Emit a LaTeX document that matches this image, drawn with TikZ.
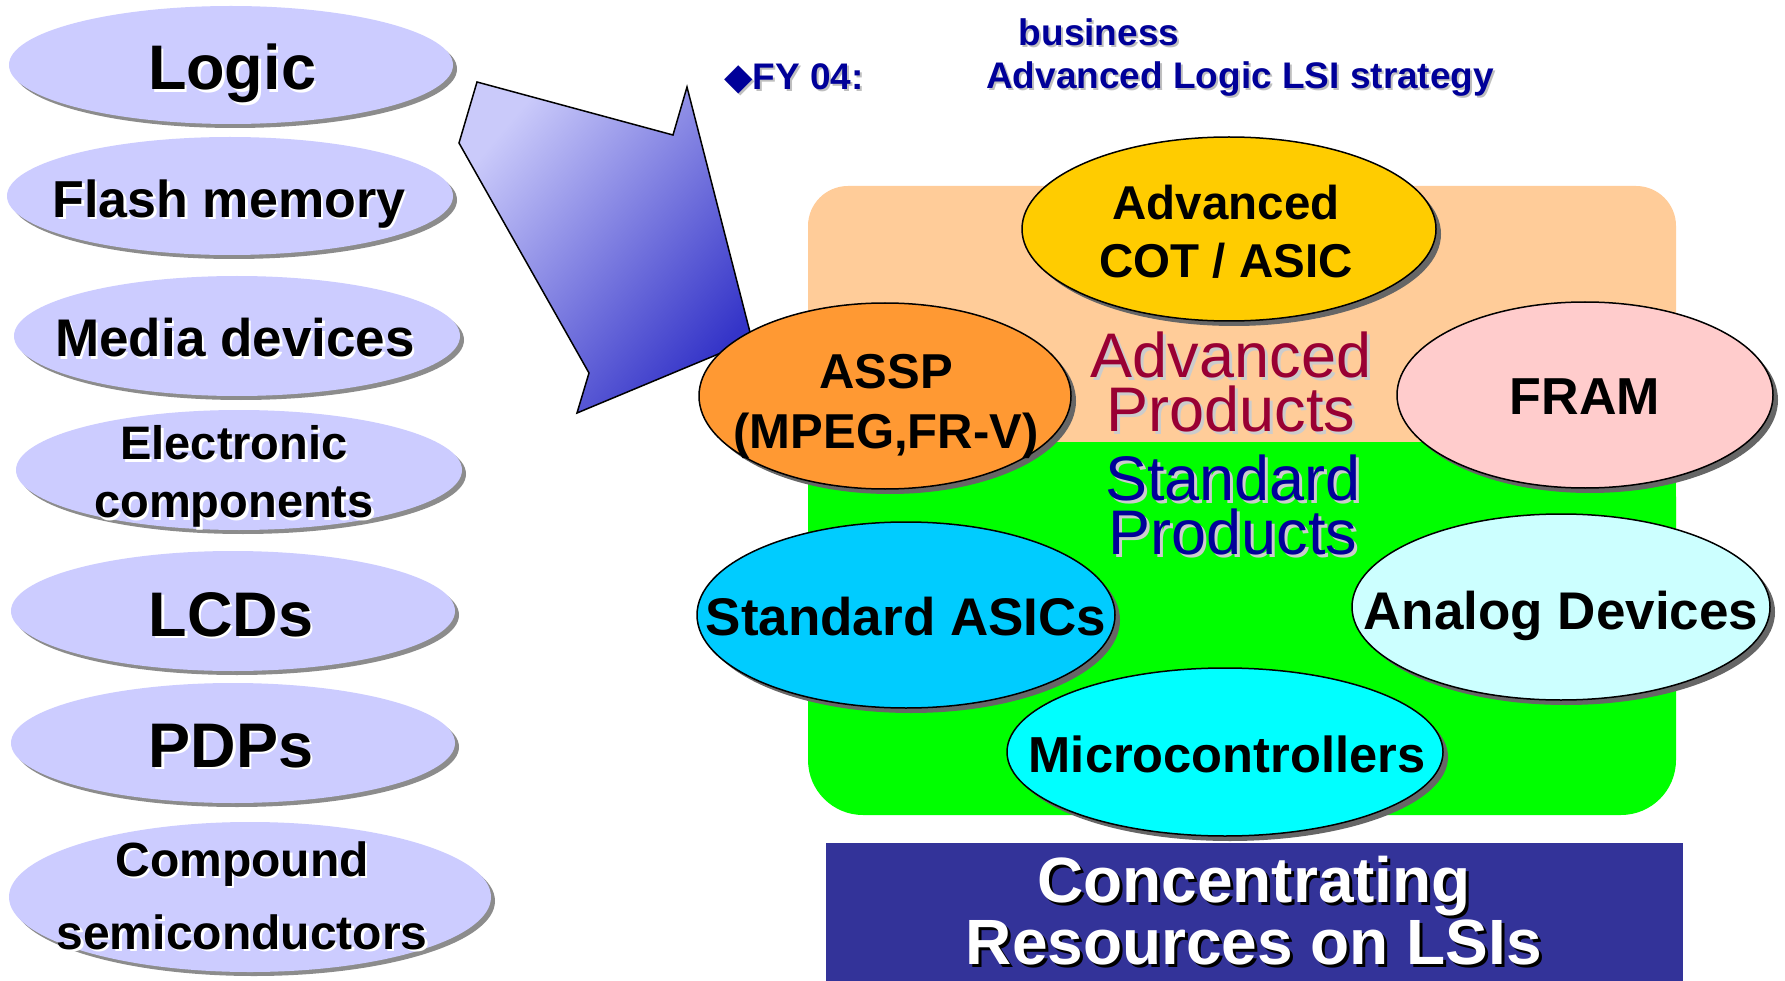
\documentclass[tikz,border=0pt]{standalone}
\usepackage{fontspec}
\setmainfont{Liberation Sans}
\newfontfamily\symfont{DejaVu Sans}
\usetikzlibrary{shapes.geometric,shadows}
\definecolor{lav}{HTML}{CCCCFF}
\definecolor{peach}{HTML}{FFCC99}
\definecolor{brightgreen}{HTML}{00FF00}
\definecolor{cotyellow}{HTML}{FFCC00}
\definecolor{asspor}{HTML}{FF9933}
\definecolor{frampink}{HTML}{FFCCCC}
\definecolor{stdblue}{HTML}{00CCFF}
\definecolor{analogcyan}{HTML}{CCFFFF}
\definecolor{microcyan}{HTML}{00FFFF}
\definecolor{navy}{HTML}{000099}
\definecolor{maroon}{HTML}{990033}
\definecolor{boxblue}{HTML}{333399}
\definecolor{arrlight}{HTML}{CACAFA}
\definecolor{arrdark}{HTML}{3434C8}
\newcommand{\shd}[3][3pt]{\leavevmode\rlap{\hspace{#1}\raisebox{-#1}{\textcolor{#2}{#3}}}#3}
\begin{document}
\begin{tikzpicture}[x=1pt,y=-1pt,
  leftell/.style={ellipse, fill=lav, draw=none, inner sep=0pt,
    drop shadow={shadow xshift=4pt, shadow yshift=-4pt, fill=black!45, opacity=1}},
  rightell/.style={ellipse, draw=black, line width=1.5pt, inner sep=0pt,
    drop shadow={shadow xshift=5pt, shadow yshift=-5pt, fill=black!60, opacity=1}},
  lbl/.style={align=center, inner sep=0pt, text=black},
]
\clip (0,0) rectangle (1785,981);
\fill[white] (0,0) rectangle (1785,981);

% ---- title lines
\node[anchor=center, inner sep=0pt, text=navy, font={\fontsize{37}{37}\selectfont\bfseries}] (business) at (1099,33) {\shd[2pt]{black!25}{business}};
\node[anchor=west, inner sep=0pt, text=navy, font={\fontsize{37}{37}\selectfont\bfseries}] (fy) at (724,80) {\shd[2pt]{black!25}{{\symfont ◆}FY 04:}};
\node[anchor=west, inner sep=0pt, text=navy, font={\fontsize{37}{37}\selectfont\bfseries}] (strategy) at (986,80) {\shd[2pt]{black!25}{Advanced Logic LSI strategy}};

% ---- left ellipses
\node[leftell, minimum width=444pt, minimum height=118pt] (logic) at (231,65) {};
\node[leftell, minimum width=446pt, minimum height=118pt] (flash) at (230,196) {};
\node[leftell, minimum width=446pt, minimum height=120pt] (media) at (237,336) {};
\node[leftell, minimum width=446pt, minimum height=120pt] (elec) at (239,470) {};
\node[leftell, minimum width=444pt, minimum height=120pt] (lcd) at (233,611) {};
\node[leftell, minimum width=444pt, minimum height=120pt] (pdp) at (233,743) {};
\node[leftell, minimum width=482pt, minimum height=150pt] (comp) at (250,897) {};

\node[lbl, font={\fontsize{63}{63}\selectfont\bfseries}] (tlogic) at (232,75) {\shd[2.5pt]{white}{Logic}};
\node[lbl, font={\fontsize{52}{52}\selectfont\bfseries}] (tflash) at (229,205) {\shd[2.5pt]{white}{Flash memory}};
\node[lbl, font={\fontsize{53}{53}\selectfont\bfseries}] (tmedia) at (235,339) {\shd[2.5pt]{white}{Media devices}};
\node[lbl, font={\fontsize{47}{58}\selectfont\bfseries}] (telec) at (234,478) {\shd[2.5pt]{white}{Electronic}\\\shd[2.5pt]{white}{components}};
\node[lbl, font={\fontsize{63}{63}\selectfont\bfseries}] (tlcd) at (231,616) {\shd[2.5pt]{white}{LCDs}};
\node[lbl, font={\fontsize{63}{63}\selectfont\bfseries}] (tpdp) at (231,747) {\shd[2.5pt]{white}{PDPs}};
\node[lbl, font={\fontsize{48}{73}\selectfont\bfseries}] (tcomp) at (242,897) {\shd[2.5pt]{white}{Compound}\\\shd[2.5pt]{white}{semiconductors}};

% ---- background panel
\fill[peach, rounded corners=40pt] (808,186) rectangle (1676,620);
\fill[brightgreen, rounded corners=55pt] (808,442) rectangle (1676,815);
\fill[brightgreen] (808,442) rectangle (1676,640);

% ---- big arrow
\shade[top color=arrlight, bottom color=arrdark, shading angle=50, draw=black, line width=1.5pt, line join=miter]
  (477,82) -- (673,135) -- (687,87) -- (752,340) -- (577,413) -- (589,373) -- (459,143) -- cycle;

% ---- text in panel
\node[lbl, text=maroon, font={\fontsize{63}{54}\selectfont}] (advprod) at (1231,383) {\shd[3pt]{black!20}{Advanced}\\\shd[3pt]{black!20}{Products}};
\node[lbl, text=navy, font={\fontsize{63}{54}\selectfont}] (stdprod) at (1233,506) {\shd[3pt]{black!20}{Standard}\\\shd[3pt]{black!20}{Products}};

% ---- right ellipses
\node[rightell, fill=cotyellow, minimum width=414pt, minimum height=184pt] (cot) at (1229,229) {};
\node[rightell, fill=asspor, minimum width=372pt, minimum height=186pt] (assp) at (885,396) {};
\node[rightell, fill=frampink, minimum width=376pt, minimum height=186pt] (fram) at (1585,395) {};
\node[rightell, fill=stdblue, minimum width=418pt, minimum height=186pt] (stdasic) at (906,615) {};
\node[rightell, fill=analogcyan, minimum width=418pt, minimum height=186pt] (analog) at (1561,607) {};
\node[rightell, fill=microcyan, minimum width=436pt, minimum height=168pt] (micro) at (1225,752) {};

\node[lbl, font={\fontsize{47.5}{58}\selectfont\bfseries}] (tcot) at (1226,232) {Advanced\\COT / ASIC};
\node[lbl, font={\fontsize{49}{60}\selectfont\bfseries}] (tassp) at (886,406) {ASSP\\(MPEG,FR-V)};
\node[lbl, font={\fontsize{52}{52}\selectfont\bfseries}] (tfram) at (1585,397) {FRAM};
\node[lbl, font={\fontsize{53}{53}\selectfont\bfseries}] (tstd) at (906,617) {Standard ASICs};
\node[lbl, font={\fontsize{53}{53}\selectfont\bfseries}] (tanalog) at (1561,616) {Analog Devices};
\node[lbl, font={\fontsize{50.6}{50.6}\selectfont\bfseries}] (tmicro) at (1227,754) {Microcontrollers};

% ---- bottom box
\fill[boxblue] (826,843) rectangle (1683,990);
\node[lbl, text=white, font={\fontsize{64}{61}\selectfont\bfseries}] (tconc) at (1254,912) {\shd[3pt]{black}{Concentrating}\\\shd[3pt]{black}{Resources on LSIs}};
\end{tikzpicture}
\end{document}
